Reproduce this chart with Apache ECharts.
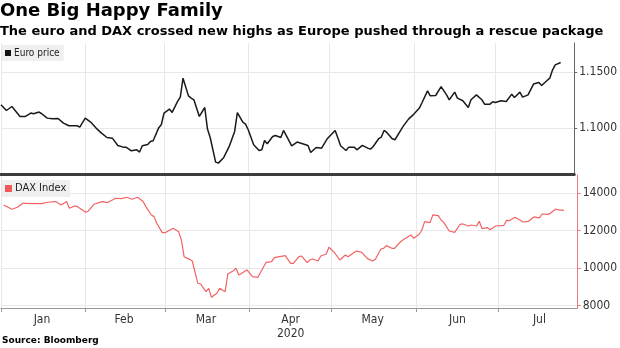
<!DOCTYPE html>
<html>
<head>
<meta charset="utf-8">
<script src="https://cdn.jsdelivr.net/npm/echarts@6/dist/echarts.min.js"></script>
<style>
html,body{margin:0;padding:0;background:#fff;}
#chart{width:620px;height:348px;}
</style>
</head>
<body>
<div id="chart"></div>
<script>
const titleText = 'One Big Happy Family';
const subtitleText = 'The euro and DAX crossed new highs as Europe pushed through a rescue package';
const sourceText = 'Source: Bloomberg';
const monthLabels = ['Jan','Feb','Mar','Apr','May','Jun','Jul'];
const yearLabel = '2020';
const monthStarts = ['2020-01-01','2020-02-01','2020-03-01','2020-04-01','2020-05-01','2020-06-01','2020-07-01'];
const monthMids = ['2020-01-16','2020-02-15','2020-03-16','2020-04-16','2020-05-16','2020-06-16','2020-07-16'];
const xMin = '2020-01-01';
const xMax = '2020-07-30';

const euroName = 'Euro price';
const euroDates = ['01-01','01-03','01-05','01-08','01-10','01-12','01-13','01-15','01-16','01-18','01-20','01-22','01-24','01-26','01-29','01-30',
'02-01','02-03','02-05','02-07','02-09','02-11','02-13','02-15','02-16','02-18','02-20','02-21','02-22','02-24','02-25','02-26','02-28','02-29',
'03-01','03-03','03-04','03-06','03-07','03-08','03-10','03-11','03-12','03-14','03-16','03-17','03-18','03-20','03-21','03-23','03-25','03-27','03-28','03-30','03-31',
'04-01','04-03','04-05','04-06','04-07','04-08','04-10','04-11','04-13','04-14','04-17','04-19','04-21','04-23','04-24','04-26','04-28','04-30',
'05-03','05-04','05-05','05-07','05-08','05-10','05-11','05-13','05-15','05-16','05-17','05-19','05-20','05-21','05-22','05-24','05-25','05-27','05-28','05-30',
'06-01','06-03','06-04','06-06','06-07','06-09','06-11','06-13','06-14','06-16','06-17','06-19','06-21','06-22','06-24','06-26','06-27','06-29','06-30',
'07-01','07-03','07-05','07-07','07-08','07-10','07-11','07-13','07-15','07-17','07-18','07-20','07-21','07-22','07-23','07-25'];
const euroValues = [1.1208,1.1157,1.1193,1.1104,1.1104,1.1134,1.1128,1.1143,1.1128,1.1089,1.1083,1.1086,1.1045,1.1021,1.1021,1.1009,
1.1089,1.1054,1.1000,1.0955,1.0916,1.0910,1.0845,1.0830,1.0830,1.0797,1.0806,1.0786,1.0842,1.0854,1.0881,1.0887,1.1000,1.1030,
1.1134,1.1170,1.1140,1.1238,1.1277,1.1446,1.1288,1.1268,1.1253,1.1104,1.1184,1.0991,1.0916,1.0696,1.0687,1.0738,1.0836,1.0970,1.1139,1.1054,1.1036,
1.0985,1.0851,1.0800,1.0806,1.0889,1.0860,1.0925,1.0934,1.0916,1.0979,1.0842,1.0875,1.0860,1.0845,1.0782,1.0827,1.0821,1.0902,
1.0979,1.0911,1.0842,1.0800,1.0830,1.0830,1.0806,1.0845,1.0821,1.0812,1.0836,1.0905,1.0920,1.0979,1.0961,1.0905,1.0896,1.0976,1.1015,1.1080,
1.1125,1.1179,1.1229,1.1333,1.1288,1.1291,1.1371,1.1296,1.1253,1.1321,1.1268,1.1244,1.1184,1.1253,1.1297,1.1253,1.1214,1.1214,1.1235,
1.1229,1.1244,1.1238,1.1303,1.1274,1.1321,1.1277,1.1297,1.1393,1.1408,1.1381,1.1425,1.1446,1.1518,1.1565,1.1586];

const daxName = 'DAX Index';
const daxDates = ['01-02','01-05','01-07','01-09','01-13','01-16','01-18','01-21','01-23','01-25','01-26','01-28','01-29',
'02-01','02-02','02-04','02-07','02-09','02-12','02-14','02-16','02-18','02-20','02-22','02-23','02-25','02-26','02-27','02-29',
'03-01','03-04','03-06','03-07','03-08','03-10','03-11','03-13','03-14','03-16','03-17','03-18','03-20','03-21','03-23','03-24','03-26','03-27','03-28','03-31',
'04-02','04-04','04-06','04-07','04-09','04-10','04-14','04-16','04-17','04-19','04-20','04-22','04-23','04-24','04-26','04-27','04-29','04-30',
'05-02','05-04','05-06','05-07','05-10','05-12','05-14','05-16','05-17','05-19','05-20','05-21','05-23','05-24','05-26','05-27','05-30','05-31',
'06-02','06-03','06-04','06-06','06-07','06-09','06-10','06-11','06-13','06-15','06-17','06-18','06-20','06-21','06-23','06-24','06-25','06-27','06-28','06-30',
'07-03','07-04','07-05','07-07','07-09','07-10','07-12','07-14','07-16','07-17','07-19','07-20','07-22','07-23','07-25'];
const daxValues = [13376,13146,13253,13467,13450,13449,13521,13557,13376,13557,13200,13324,13285,
12985,13055,13413,13557,13503,13735,13717,13788,13682,13788,13557,13289,12841,12752,12395,11893,
11893,12128,11946,11502,10608,10465,10377,9183,9147,8734,8913,8434,8648,8913,8734,9681,9860,9986,9628,9896,
9537,9502,10040,10307,10340,10554,10661,10250,10250,10608,10643,10286,10429,10483,10376,10643,10750,11111,
10822,10429,10697,10607,10913,10840,10518,10376,10465,11020,11056,11198,11057,11057,11379,11504,11770,11592,
11806,12037,12482,12428,12841,12803,12571,12446,11984,11911,12343,12360,12250,12305,12250,12500,12107,12161,12054,12250,
12286,12553,12535,12718,12553,12463,12500,12736,12682,12893,12874,12928,13162,13108,13090];

const euroTicks = [1.10, 1.15];
const daxTicks = [8000, 10000, 12000, 14000];

const ts = s => new Date(s + 'T00:00:00').getTime();
const euroData = euroDates.map((d, i) => [ts('2020-' + d), euroValues[i]]);
const daxData = daxDates.map((d, i) => [ts('2020-' + d), daxValues[i]]);
const startTs = monthStarts.map(ts);
const midTs = monthMids.map(ts);

const FONT = "'Liberation Sans Narrow','DejaVu Sans Condensed','Liberation Sans',sans-serif";
const gridColor = '#e8e8e8';

const chart = echarts.init(document.getElementById('chart'), null, {renderer: 'canvas'});
chart.setOption({
  animation: false,
  backgroundColor: '#fff',
  title: [
    {text: titleText, left: 0, top: 2, padding: 0,
     textStyle: {fontFamily: 'DejaVu Sans', fontWeight: 'bold', fontSize: 18, color: '#000'}},
    {text: subtitleText, left: 0, top: 25, padding: 0,
     textStyle: {fontFamily: 'DejaVu Sans', fontWeight: 'bold', fontSize: 13, color: '#000'}},
    {text: sourceText, left: 2, top: 336, padding: 0,
     textStyle: {fontFamily: 'DejaVu Sans', fontWeight: 'bold', fontSize: 9, color: '#000'}}
  ],
  legend: [
    {data: [euroName], left: 2, top: 45, orient: 'horizontal', icon: 'rect', itemWidth: 6, itemHeight: 6, itemGap: 4,
     backgroundColor: '#efefef', padding: [3, 4, 3, 3],
     textStyle: {fontFamily: FONT, fontSize: 10, color: '#222', padding: [0, 0, 0, -2]}},
    {data: [daxName], left: 2, top: 180, orient: 'horizontal', icon: 'rect', itemWidth: 7, itemHeight: 7, itemGap: 4,
     backgroundColor: '#efefef', padding: [3, 4, 3, 3],
     textStyle: {fontFamily: FONT, fontSize: 11, color: '#222', padding: [0, 0, 0, -2]}}
  ],
  grid: [
    {left: 1, right: 41, top: 43, height: 131},
    {left: 1, right: 41, top: 175, height: 133}
  ],
  xAxis: [
    {type: 'value', gridIndex: 0, min: ts(xMin), max: ts(xMax),
     axisLine: {show: true, lineStyle: {color: '#3c3c3c', width: 3}},
     axisTick: {show: false, customValues: startTs},
     axisLabel: {show: false},
     splitLine: {show: true, lineStyle: {color: gridColor, width: 1}}},
    {type: 'value', gridIndex: 1, min: ts(xMin), max: ts(xMax),
     axisLine: {show: true, lineStyle: {color: '#999', width: 1}},
     axisTick: {show: true, customValues: startTs, length: 4, lineStyle: {color: '#999'}},
     axisLabel: {show: true, customValues: midTs, fontFamily: FONT, fontSize: 12, color: '#333', margin: 5, lineHeight: 14,
       formatter: v => { const m = new Date(v).getMonth(); return monthLabels[m] + (m === 3 ? '\n' + yearLabel : ''); }},
     splitLine: {show: true, lineStyle: {color: gridColor, width: 1}}}
  ],
  yAxis: [
    {type: 'value', gridIndex: 0, position: 'right', min: 1.059, max: 1.176, scale: true,
     axisLine: {show: true, lineStyle: {color: '#666', width: 1}},
     axisTick: {show: true, customValues: euroTicks, length: 3, lineStyle: {color: '#666'}},
     axisLabel: {show: true, customValues: euroTicks, fontFamily: FONT, fontSize: 12, color: '#333', margin: 5,
       formatter: v => Number(v).toFixed(4)},
     splitLine: {show: true, lineStyle: {color: gridColor, width: 1}}},
    {type: 'value', gridIndex: 1, position: 'right', min: 7860, max: 14980, scale: true,
     axisLine: {show: true, lineStyle: {color: '#f27a7a', width: 1}},
     axisTick: {show: true, customValues: daxTicks, length: 3, lineStyle: {color: '#f27a7a'}},
     axisLabel: {show: true, customValues: daxTicks, fontFamily: FONT, fontSize: 12, color: '#333', margin: 5,
       formatter: v => String(Math.round(v))},
     splitLine: {show: true, lineStyle: {color: gridColor, width: 1}}}
  ],
  series: [
    {name: euroName, type: 'line', xAxisIndex: 0, yAxisIndex: 0, data: euroData, showSymbol: false, symbol: 'none',
     color: '#111', lineStyle: {color: '#1a1a1a', width: 1.5}},
    {name: daxName, type: 'line', xAxisIndex: 1, yAxisIndex: 1, data: daxData, showSymbol: false, symbol: 'none',
     color: '#f25a5a', lineStyle: {color: '#f26363', width: 1.2}}
  ]
});
</script>
</body>
</html>
